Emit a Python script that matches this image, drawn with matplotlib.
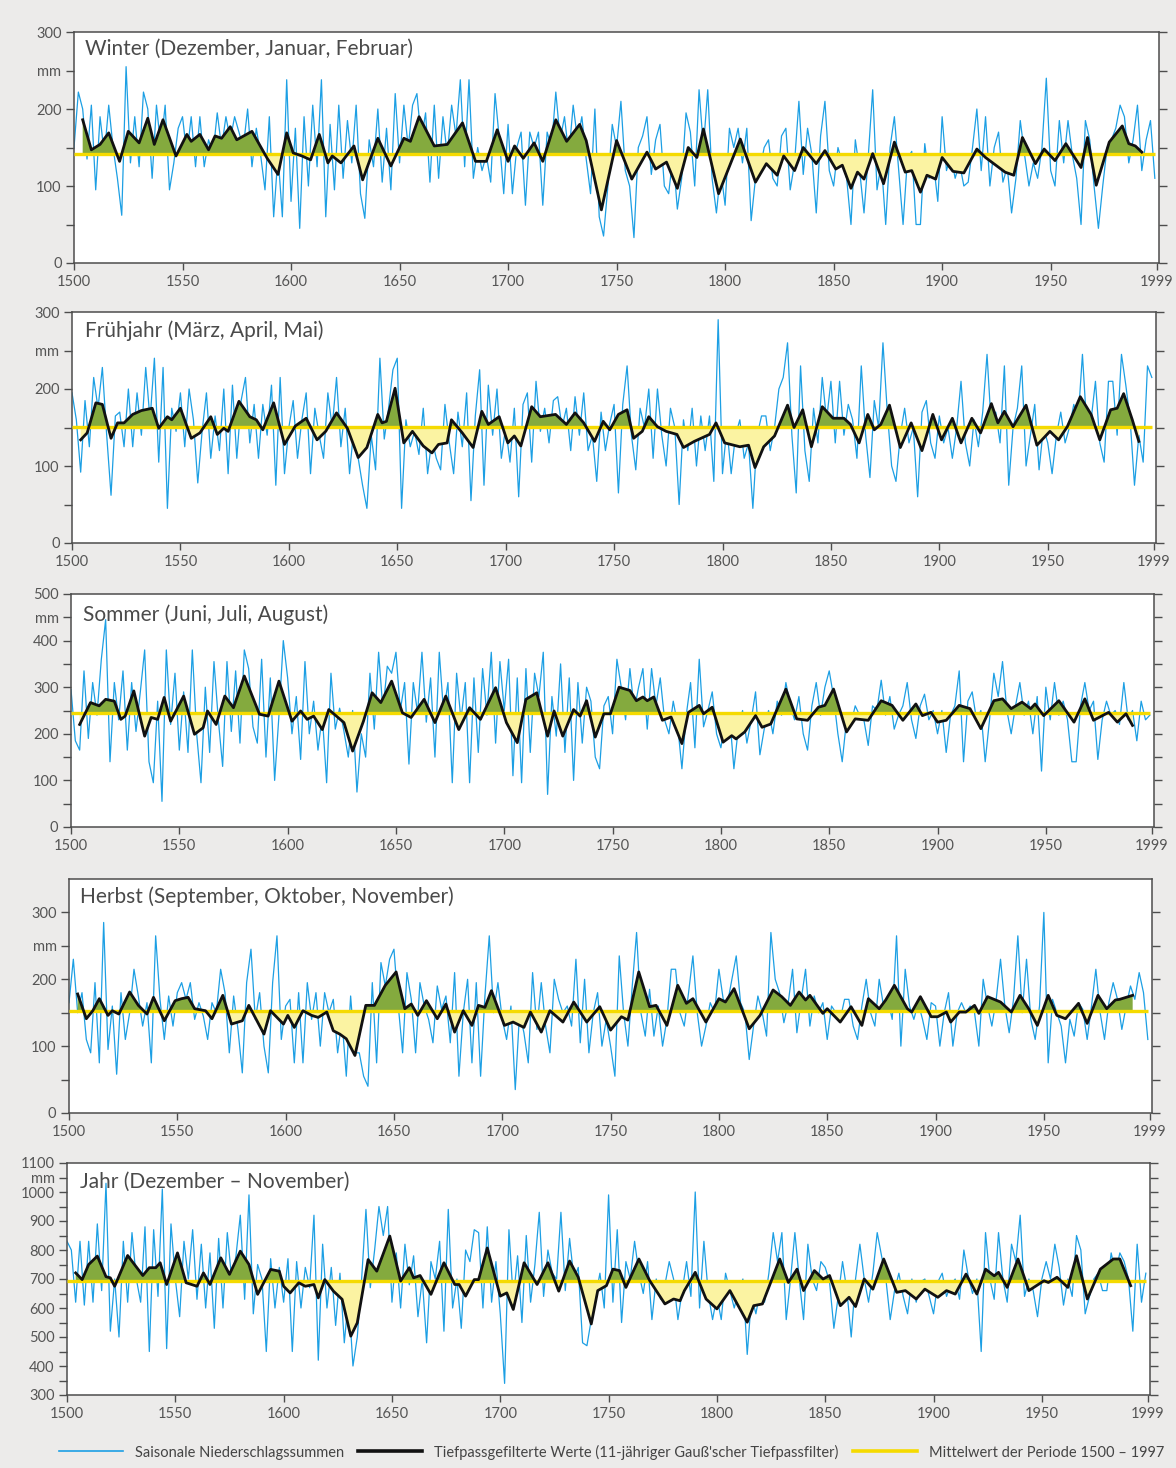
import numpy as np
import matplotlib
matplotlib.use("Agg")
import matplotlib.pyplot as plt
from matplotlib.lines import Line2D

plt.rcParams['font.family'] = ['Lato', 'DejaVu Sans']

# seasonal precipitation sums (mm), read every second year 1500..1998
RAW_YEARS = list(range(1500, 2000, 2))

winter_raw = [
    150, 222, 200, 135, 205, 95, 190, 140, 205, 150,
    110, 62, 255, 130, 190, 125, 222, 200, 110, 205,
    150, 205, 95, 130, 175, 190, 140, 190, 125, 190,
    125, 160, 140, 195, 150, 190, 160, 190, 170, 150,
    200, 125, 175, 140, 95, 190, 60, 140, 60, 238,
    80, 175, 45, 190, 100, 205, 125, 238, 60, 180,
    95, 205, 110, 185, 130, 205, 90, 58, 160, 125,
    200, 105, 175, 95, 220, 130, 205, 150, 205, 220,
    160, 195, 105, 205, 110, 190, 140, 205, 165, 238,
    125, 238, 110, 150, 120, 140, 105, 220, 160, 90,
    180, 90, 150, 170, 75, 170, 150, 170, 75, 170,
    150, 222, 160, 190, 140, 205, 160, 190, 135, 90,
    200, 60, 35, 100, 180, 150, 210, 120, 100, 33,
    150, 165, 190, 115, 160, 180, 100, 90, 140, 70,
    110, 195, 170, 100, 225, 150, 225, 110, 65, 120,
    75, 175, 150, 175, 130, 175, 55, 110, 120, 150,
    160, 110, 100, 165, 175, 95, 130, 210, 115, 175,
    140, 65, 165, 210, 120, 100, 150, 130, 110, 50,
    160, 120, 65, 140, 225, 95, 130, 50, 150, 190,
    120, 50, 135, 145, 50, 50, 155, 110, 130, 80,
    190, 120, 140, 110, 130, 100, 105, 150, 200, 120,
    190, 100, 150, 170, 105, 125, 65, 110, 185, 140,
    100, 130, 110, 150, 240, 120, 100, 185, 130, 185,
    140, 110, 50, 185, 160, 100, 45, 100, 150, 160,
    175, 205, 190, 130, 160, 205, 120, 160, 185, 110,
]

spring_raw = [
    195, 160, 92, 185, 125, 215, 175, 228, 140, 62,
    165, 170, 125, 200, 125, 195, 140, 228, 160, 240,
    105, 228, 45, 175, 145, 195, 125, 200, 160, 78,
    145, 195, 110, 165, 120, 200, 90, 205, 110, 185,
    215, 130, 180, 110, 180, 140, 205, 75, 215, 90,
    150, 185, 110, 160, 195, 90, 175, 140, 110, 195,
    150, 215, 125, 175, 90, 150, 110, 75, 45, 140,
    95, 240, 135, 175, 225, 240, 45, 160, 125, 145,
    115, 175, 90, 135, 110, 95, 180, 130, 90, 170,
    125, 195, 55, 165, 225, 75, 205, 140, 200, 110,
    150, 105, 175, 60, 180, 195, 105, 210, 145, 175,
    130, 185, 190, 150, 175, 120, 190, 140, 195, 120,
    140, 80, 170, 120, 155, 180, 65, 180, 230, 140,
    95, 175, 150, 200, 110, 200, 140, 100, 175, 150,
    50, 160, 120, 175, 100, 165, 120, 165, 80, 290,
    90, 150, 90, 140, 160, 110, 130, 45, 140, 165,
    165, 120, 150, 200, 215, 260, 140, 65, 230, 120,
    80, 175, 130, 215, 160, 210, 130, 210, 140, 180,
    160, 110, 230, 140, 85, 185, 150, 260, 170, 100,
    80, 140, 175, 130, 150, 60, 170, 185, 130, 110,
    165, 130, 150, 110, 150, 210, 130, 100, 160, 125,
    170, 245, 150, 170, 130, 230, 75, 150, 175, 230,
    100, 140, 180, 95, 150, 130, 90, 140, 170, 130,
    150, 180, 160, 245, 150, 160, 210, 130, 105, 210,
    210, 140, 245, 205, 160, 75, 140, 105, 230, 215,
]

summer_raw = [
    295, 185, 165, 335, 190, 310, 240, 360, 445, 140,
    310, 230, 335, 165, 310, 205, 290, 380, 140, 95,
    270, 55, 380, 220, 330, 165, 290, 160, 380, 200,
    95, 300, 160, 355, 230, 130, 355, 205, 335, 180,
    380, 340, 215, 180, 360, 150, 320, 100, 240, 400,
    320, 200, 280, 145, 355, 200, 270, 165, 240, 95,
    330, 210, 255, 205, 150, 250, 75, 200, 150, 330,
    210, 375, 250, 345, 330, 375, 250, 310, 135, 310,
    245, 375, 225, 320, 150, 375, 245, 310, 95, 330,
    230, 310, 95, 320, 160, 340, 240, 375, 180, 355,
    250, 360, 110, 320, 95, 340, 160, 330, 280, 375,
    70, 280, 195, 350, 160, 320, 100, 310, 180, 300,
    270, 150, 125, 260, 280, 200, 360, 300, 230, 340,
    250, 300, 340, 210, 340, 260, 320, 230, 200, 270,
    220, 125, 240, 310, 170, 360, 215, 250, 290, 200,
    170, 230, 240, 125, 210, 250, 180, 230, 290, 155,
    210, 250, 200, 270, 240, 310, 260, 230, 280, 200,
    165, 260, 310, 240, 300, 335, 280, 200, 140, 230,
    220, 260, 240, 230, 175, 260, 250, 315, 240, 280,
    210, 240, 260, 310, 230, 190, 260, 285, 230, 250,
    200, 250, 160, 240, 260, 335, 140, 270, 290, 230,
    250, 140, 230, 330, 280, 355, 250, 200, 260, 310,
    240, 270, 200, 280, 120, 300, 230, 310, 240, 270,
    230, 140, 140, 260, 310, 250, 270, 145, 230, 270,
    240, 250, 220, 310, 230, 250, 185, 270, 230, 240,
]

autumn_raw = [
    165, 230, 150, 180, 110, 90, 195, 75, 285, 95,
    160, 58, 180, 110, 150, 215, 175, 130, 165, 75,
    265, 170, 110, 175, 130, 180, 195, 170, 195, 140,
    165, 145, 110, 165, 150, 215, 180, 90, 175, 125,
    60, 195, 245, 140, 180, 100, 60, 195, 265, 110,
    160, 170, 75, 180, 75, 195, 140, 180, 100, 180,
    150, 170, 90, 140, 55, 175, 90, 90, 55, 40,
    195, 75, 225, 190, 230, 245, 160, 90, 210, 170,
    90, 195, 160, 140, 105, 190, 155, 175, 105, 210,
    55, 150, 200, 75, 195, 55, 175, 265, 150, 195,
    140, 110, 160, 35, 150, 120, 75, 210, 125, 195,
    130, 90, 200, 170, 150, 160, 130, 230, 105, 200,
    90, 150, 180, 100, 140, 100, 55, 235, 150, 100,
    190, 270, 150, 115, 185, 115, 160, 100, 140, 215,
    215, 150, 130, 180, 235, 150, 100, 130, 165, 150,
    215, 170, 165, 200, 235, 165, 150, 80, 130, 175,
    150, 115, 270, 200, 180, 135, 165, 215, 120, 170,
    215, 130, 175, 150, 165, 110, 160, 150, 140, 170,
    170, 130, 110, 160, 200, 150, 130, 200, 160, 170,
    140, 265, 100, 215, 160, 140, 165, 140, 110, 165,
    160, 100, 150, 180, 100, 150, 165, 150, 160, 150,
    100, 200, 160, 130, 170, 230, 160, 120, 170, 265,
    150, 230, 140, 110, 160, 300, 75, 170, 150, 130,
    75, 140, 115, 165, 155, 110, 160, 215, 150, 110,
    165, 195, 170, 125, 160, 190, 170, 210, 180, 110,
]

year_raw = [
    830, 800, 620, 830, 610, 830, 620, 890, 660, 1030,
    520, 700, 500, 830, 620, 860, 700, 620, 880, 450,
    870, 640, 1010, 460, 890, 700, 570, 830, 700, 870,
    630, 820, 600, 790, 530, 840, 600, 860, 700, 780,
    920, 630, 990, 580, 750, 700, 450, 770, 600, 740,
    620, 770, 450, 760, 600, 740, 670, 920, 420, 820,
    600, 740, 540, 720, 480, 640, 400, 500, 700, 940,
    670, 800, 950, 850, 950, 620, 790, 600, 820, 680,
    780, 570, 700, 480, 760, 700, 830, 520, 940, 600,
    700, 530, 800, 760, 870, 860, 600, 880, 620, 760,
    580, 340, 870, 630, 780, 550, 850, 620, 750, 930,
    640, 800, 720, 700, 930, 660, 840, 700, 740, 480,
    470, 560, 640, 720, 600, 990, 620, 870, 550, 760,
    700, 830, 720, 650, 760, 560, 700, 630, 680, 760,
    700, 560, 660, 760, 640, 1000, 600, 830, 650, 560,
    640, 560, 720, 660, 600, 660, 700, 440, 640, 580,
    660, 620, 720, 860, 760, 860, 560, 700, 860, 700,
    560, 820, 700, 660, 760, 740, 690, 530, 640, 760,
    660, 500, 700, 820, 700, 620, 720, 860, 780, 700,
    560, 660, 720, 640, 580, 700, 620, 690, 700, 640,
    580, 690, 720, 640, 680, 700, 630, 800, 710, 650,
    700, 450, 860, 700, 630, 860, 700, 620, 820, 760,
    920, 640, 700, 660, 570, 700, 760, 700, 820, 740,
    610, 700, 640, 850, 800, 580, 640, 700, 720, 660,
    660, 790, 720, 790, 760, 700, 520, 820, 620, 720,
]

# low-pass filtered values (year, mm), read at the turning points
winter_filt = [
    (1504, 186), (1508, 147), (1512, 154), (1516, 169), (1521, 132),
    (1525, 171), (1530, 156), (1534, 188), (1537, 154), (1541, 186),
    (1547, 139), (1552, 167), (1554, 158), (1558, 167), (1562, 147),
    (1565, 165), (1568, 162), (1572, 177), (1575, 160), (1582, 171),
    (1589, 136), (1594, 115), (1598, 169), (1601, 143), (1605, 139),
    (1609, 134), (1613, 167), (1617, 130), (1619, 139), (1623, 130),
    (1629, 152), (1633, 108), (1640, 162), (1646, 126), (1652, 162),
    (1655, 158), (1659, 190), (1666, 152), (1672, 154), (1679, 182),
    (1685, 132), (1690, 132), (1695, 173), (1700, 132), (1703, 152),
    (1707, 136), (1712, 156), (1716, 132), (1722, 186), (1727, 158),
    (1733, 180), (1736, 159), (1743, 69), (1750, 159), (1757, 109),
    (1764, 144), (1768, 122), (1773, 131), (1778, 97), (1783, 150),
    (1787, 137), (1790, 174), (1797, 90), (1807, 161), (1814, 105),
    (1819, 129), (1824, 114), (1827, 139), (1832, 120), (1836, 150),
    (1842, 129), (1846, 146), (1851, 122), (1854, 127), (1858, 97),
    (1861, 118), (1864, 109), (1868, 142), (1873, 103), (1878, 157),
    (1883, 118), (1886, 120), (1890, 92), (1893, 114), (1897, 109),
    (1900, 137), (1905, 119), (1910, 117), (1916, 148), (1920, 137),
    (1929, 118), (1933, 114), (1937, 163), (1943, 129), (1947, 148),
    (1952, 133), (1957, 155), (1964, 124), (1967, 163), (1971, 101),
    (1977, 157), (1983, 178), (1986, 155), (1989, 152), (1992, 144),
]

spring_filt = [
    (1504, 134), (1507, 143), (1511, 182), (1514, 180), (1518, 136),
    (1521, 156), (1524, 156), (1528, 167), (1532, 172), (1537, 175),
    (1540, 149), (1544, 164), (1546, 160), (1550, 175), (1555, 136),
    (1559, 143), (1564, 164), (1567, 141), (1570, 149), (1572, 145),
    (1577, 184), (1582, 164), (1585, 160), (1588, 147), (1593, 182),
    (1598, 128), (1603, 152), (1608, 162), (1613, 134), (1617, 145),
    (1622, 169), (1627, 149), (1632, 111), (1636, 124), (1641, 167),
    (1643, 156), (1645, 158), (1649, 201), (1653, 130), (1657, 145),
    (1662, 126), (1666, 117), (1669, 128), (1673, 130), (1675, 160),
    (1680, 143), (1685, 124), (1689, 171), (1692, 154), (1697, 164),
    (1701, 130), (1704, 139), (1707, 126), (1712, 177), (1716, 164),
    (1723, 167), (1728, 154), (1732, 169), (1736, 156), (1741, 132),
    (1745, 158), (1748, 147), (1752, 167), (1756, 173), (1759, 136),
    (1763, 145), (1766, 164), (1770, 151), (1774, 145), (1779, 141),
    (1782, 124), (1787, 132), (1794, 141), (1797, 156), (1801, 130),
    (1808, 125), (1812, 127), (1815, 98), (1819, 125), (1824, 139),
    (1830, 179), (1833, 150), (1837, 173), (1841, 125), (1846, 177),
    (1851, 162), (1856, 162), (1859, 154), (1863, 130), (1867, 167),
    (1870, 147), (1873, 154), (1877, 179), (1882, 124), (1887, 156),
    (1892, 120), (1897, 167), (1901, 134), (1906, 162), (1910, 130),
    (1915, 162), (1919, 143), (1924, 181), (1927, 156), (1930, 171),
    (1934, 151), (1940, 179), (1945, 127), (1951, 145), (1955, 134),
    (1959, 151), (1965, 190), (1970, 167), (1974, 134), (1979, 173),
    (1982, 175), (1985, 194), (1989, 160), (1992, 132),
]

summer_filt = [
    (1504, 220), (1509, 267), (1513, 260), (1516, 274), (1520, 270),
    (1523, 231), (1525, 238), (1529, 292), (1534, 195), (1537, 235),
    (1540, 231), (1543, 278), (1546, 227), (1552, 281), (1557, 199),
    (1561, 213), (1563, 249), (1567, 220), (1571, 281), (1575, 256),
    (1580, 324), (1587, 242), (1591, 238), (1596, 313), (1602, 227),
    (1606, 249), (1609, 231), (1612, 238), (1616, 209), (1619, 252),
    (1626, 224), (1630, 163), (1635, 227), (1639, 288), (1643, 267),
    (1648, 313), (1653, 245), (1657, 235), (1663, 274), (1668, 224),
    (1673, 281), (1679, 209), (1684, 256), (1689, 231), (1696, 299),
    (1701, 224), (1706, 181), (1710, 274), (1715, 288), (1720, 195),
    (1723, 249), (1727, 195), (1732, 252), (1735, 238), (1738, 271),
    (1742, 193), (1746, 243), (1749, 243), (1753, 300), (1758, 293),
    (1761, 271), (1764, 279), (1766, 271), (1769, 279), (1773, 229),
    (1777, 236), (1782, 179), (1785, 246), (1790, 261), (1792, 243),
    (1796, 257), (1801, 182), (1805, 196), (1807, 189), (1811, 204),
    (1816, 239), (1819, 214), (1823, 221), (1830, 296), (1835, 232),
    (1840, 229), (1845, 257), (1848, 261), (1852, 296), (1858, 204),
    (1862, 232), (1868, 229), (1874, 271), (1879, 261), (1884, 229),
    (1890, 264), (1893, 239), (1897, 246), (1900, 225), (1904, 229),
    (1910, 261), (1915, 254), (1920, 211), (1926, 271), (1930, 275),
    (1934, 254), (1939, 268), (1943, 254), (1945, 264), (1949, 239),
    (1956, 271), (1963, 225), (1968, 275), (1972, 229), (1979, 246),
    (1983, 225), (1987, 243), (1990, 218),
]

autumn_filt = [
    (1504, 178), (1508, 141), (1511, 153), (1514, 171), (1518, 146),
    (1520, 153), (1523, 148), (1528, 181), (1532, 161), (1536, 148),
    (1539, 173), (1544, 138), (1549, 168), (1552, 171), (1555, 173),
    (1558, 156), (1563, 153), (1566, 141), (1571, 176), (1575, 133),
    (1580, 138), (1583, 161), (1590, 118), (1593, 153), (1599, 133),
    (1601, 146), (1604, 128), (1608, 153), (1612, 146), (1615, 143),
    (1619, 151), (1622, 123), (1625, 118), (1628, 111), (1632, 86),
    (1637, 161), (1641, 161), (1646, 191), (1651, 211), (1655, 156),
    (1658, 163), (1661, 146), (1665, 168), (1670, 141), (1674, 163),
    (1678, 121), (1682, 153), (1686, 131), (1689, 161), (1692, 158),
    (1695, 183), (1701, 131), (1705, 136), (1710, 128), (1713, 151),
    (1718, 121), (1722, 153), (1728, 136), (1733, 166), (1739, 136),
    (1745, 159), (1750, 124), (1755, 144), (1758, 139), (1763, 211),
    (1768, 159), (1771, 161), (1776, 131), (1781, 191), (1785, 164),
    (1788, 171), (1794, 136), (1800, 171), (1803, 166), (1807, 186),
    (1814, 126), (1819, 146), (1825, 184), (1829, 174), (1833, 161),
    (1837, 181), (1840, 169), (1842, 176), (1848, 149), (1850, 156),
    (1856, 136), (1861, 159), (1866, 131), (1869, 171), (1874, 156),
    (1877, 169), (1881, 191), (1887, 156), (1889, 151), (1893, 174),
    (1898, 144), (1901, 144), (1905, 151), (1907, 136), (1911, 151),
    (1914, 151), (1918, 161), (1920, 149), (1924, 174), (1930, 166),
    (1935, 151), (1939, 176), (1943, 156), (1947, 131), (1952, 176),
    (1956, 146), (1960, 141), (1966, 164), (1970, 134), (1975, 176),
    (1979, 156), (1983, 169), (1985, 170), (1989, 174), (1991, 176),
]

year_filt = [
    (1504, 721), (1507, 698), (1510, 750), (1514, 779), (1518, 708),
    (1520, 704), (1522, 675), (1528, 781), (1535, 712), (1538, 739),
    (1541, 739), (1543, 756), (1546, 681), (1551, 790), (1555, 687),
    (1560, 675), (1563, 721), (1566, 681), (1571, 773), (1575, 716),
    (1580, 796), (1584, 750), (1588, 647), (1594, 733), (1598, 727),
    (1600, 675), (1603, 652), (1607, 687), (1610, 675), (1614, 681),
    (1616, 635), (1619, 698), (1623, 658), (1627, 630), (1631, 503),
    (1634, 549), (1639, 767), (1643, 727), (1649, 848), (1654, 693),
    (1658, 739), (1660, 704), (1663, 712), (1668, 647), (1674, 756),
    (1679, 681), (1681, 681), (1684, 641), (1688, 698), (1690, 698),
    (1694, 807), (1700, 641), (1703, 652), (1706, 595), (1711, 756),
    (1717, 681), (1722, 756), (1727, 658), (1732, 762), (1736, 706),
    (1742, 545), (1745, 660), (1749, 677), (1752, 734), (1755, 729),
    (1758, 671), (1764, 769), (1769, 694), (1776, 614), (1780, 631),
    (1783, 625), (1785, 660), (1790, 723), (1795, 631), (1800, 597),
    (1806, 660), (1814, 551), (1817, 608), (1821, 614), (1829, 769),
    (1833, 688), (1837, 734), (1840, 660), (1845, 729), (1849, 700),
    (1852, 712), (1857, 608), (1861, 637), (1864, 605), (1868, 700),
    (1872, 665), (1877, 769), (1883, 654), (1887, 660), (1892, 631),
    (1896, 665), (1902, 637), (1906, 660), (1910, 648), (1915, 717),
    (1920, 648), (1924, 734), (1928, 711), (1930, 723), (1934, 671),
    (1939, 769), (1944, 660), (1951, 694), (1953, 688), (1957, 706),
    (1962, 671), (1966, 780), (1971, 631), (1977, 734), (1983, 769),
    (1986, 769), (1991, 677),
]

# period means 1500-1997 (mm)
winter_mean = 142
spring_mean = 151
summer_mean = 245
autumn_mean = 153
year_mean = 693

titles = [
    "Winter (Dezember, Januar, Februar)",
    "Frühjahr (März, April, Mai)",
    "Sommer (Juni, Juli, August)",
    "Herbst (September, Oktober, November)",
    "Jahr (Dezember – November)",
]
x_ticks = [1500, 1550, 1600, 1650, 1700, 1750, 1800, 1850, 1900, 1950, 1999]
legend_labels = [
    "Saisonale Niederschlagssummen",
    "Tiefpassgefilterte Werte (11-jähriger Gauß'scher Tiefpassfilter)",
    "Mittelwert der Periode 1500 – 1997",
]

BLUE = '#1c9fe4'
GREEN = '#84aa3e'
PALE = '#fbf3a2'
YELLOW = '#f5da00'
GREY = '#4d4d4d'

W, H = 1176, 1468
fig = plt.figure(figsize=(W / 100, H / 100), dpi=100, facecolor='#ecebea')

# (left px, x of 1999 px, top px, bottom px, ylim, label step, mm tick)
layout = [
    (74, 1157, 32, 263, (0, 300), 100, 250),
    (72, 1154, 312, 543, (0, 300), 100, 250),
    (71, 1152, 594, 827, (0, 500), 100, 450),
    (69, 1150, 879, 1113, (0, 350), 100, 250),
    (67, 1148, 1163, 1395, (300, 1100), 100, 1050),
]
raws = [winter_raw, spring_raw, summer_raw, autumn_raw, year_raw]
filts = [winter_filt, spring_filt, summer_filt, autumn_filt, year_filt]
means = [winter_mean, spring_mean, summer_mean, autumn_mean, year_mean]
title_off = [(11, -17), (13, -19), (12, -21), (11, -18), (13, -19)]

for i in range(5):
    left, x99, top, bot, ylim, step, mm_at = layout[i]
    width = (x99 - left) * 500 / 499
    ax = fig.add_axes([left / W, 1 - bot / H, width / W, (bot - top) / H])
    ax.set_facecolor('white')

    raw = np.array(raws[i])
    assert len(raw) == len(RAW_YEARS)
    fy = np.array([p[0] for p in filts[i]], dtype=float)
    fv = np.array([p[1] for p in filts[i]], dtype=float)
    m = means[i]

    ax.plot(RAW_YEARS, raw, color=BLUE, lw=0.9, zorder=1)
    ax.fill_between(fy, fv, m, where=fv >= m, interpolate=True,
                    color=GREEN, lw=0, zorder=2)
    ax.fill_between(fy, fv, m, where=fv <= m, interpolate=True,
                    color=PALE, lw=0, zorder=2)
    ax.hlines(m, RAW_YEARS[0], RAW_YEARS[-1], color=YELLOW, lw=2.4, zorder=3)
    ax.plot(fy, fv, color='#111111', lw=2.0, zorder=4,
            solid_joinstyle='round')

    ax.set_xlim(1500, 2000)
    ax.set_ylim(*ylim)
    ax.set_xticks(x_ticks)
    ax.set_xticklabels([str(t) for t in x_ticks])

    yt = list(range(ylim[0], (ylim[1] if i != 3 else 300) + 1, 50))
    labels = []
    for v in yt:
        if v == mm_at:
            labels.append('mm')
        elif v % step == 0:
            labels.append(str(v))
        else:
            labels.append('')
    ax.set_yticks(yt)
    ax.set_yticklabels(labels)

    ax.tick_params(axis='y', which='both', left=True, right=True,
                   direction='out', length=6, width=1.0, color=GREY,
                   labelsize=10.5, labelcolor='#555555', pad=3)
    ax.tick_params(axis='x', direction='out', length=5, width=1.0,
                   color=GREY, labelsize=10.5, labelcolor='#555555', pad=4)
    for s in ax.spines.values():
        s.set_color(GREY)
        s.set_linewidth(1.1)

    ax.annotate(titles[i], xy=(0, 1), xycoords='axes fraction',
                xytext=title_off[i], textcoords='offset pixels',
                ha='left', va='center', fontsize=15, color='#4a4a4a')

handles = [
    Line2D([], [], color=BLUE, lw=1.2),
    Line2D([], [], color='#111111', lw=2.6),
    Line2D([], [], color=YELLOW, lw=2.6),
]
fig.legend(handles, legend_labels, loc='center', bbox_to_anchor=(0.52, 1 - 1452 / H),
           ncol=3, frameon=False, fontsize=10.5, handlelength=4.4,
           handletextpad=0.8, columnspacing=1.0, labelcolor='#444444')

fig.savefig('out.png', dpi=100, facecolor=fig.get_facecolor())
